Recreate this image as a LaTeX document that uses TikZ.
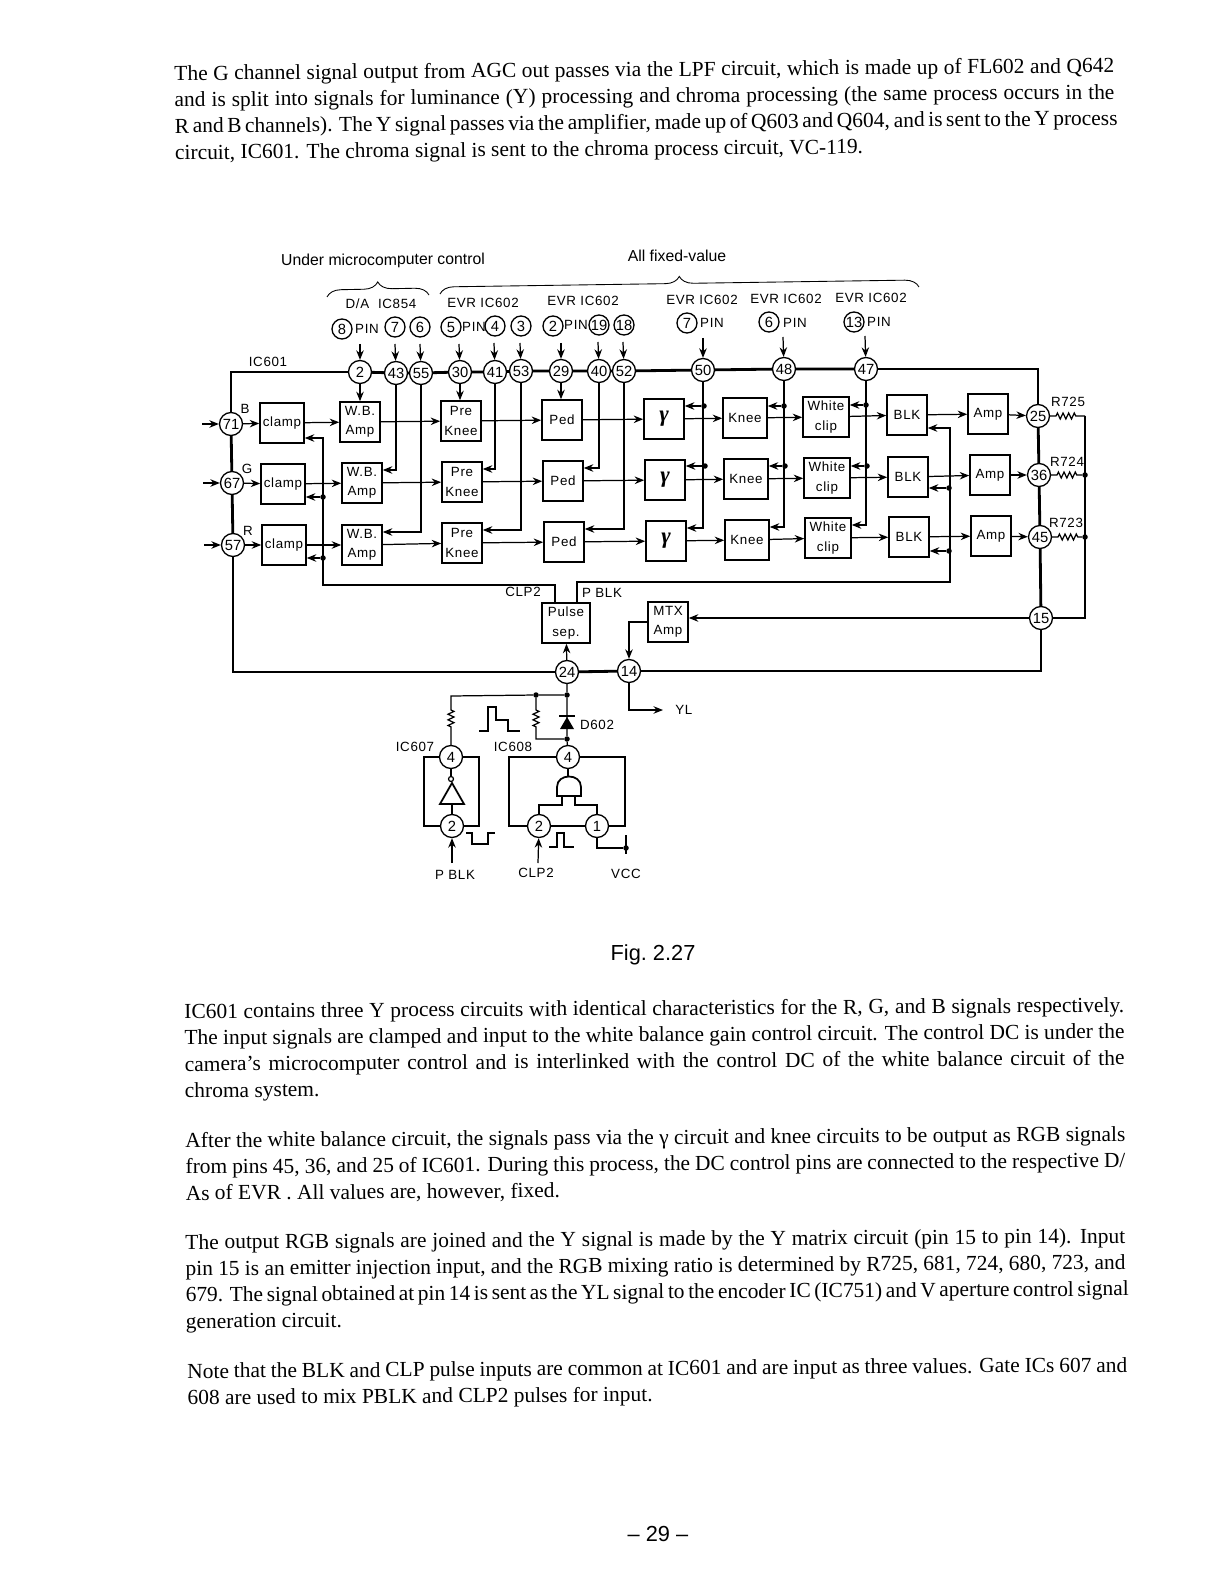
\documentclass[tikz,border=0pt]{standalone}
\usepackage{fontspec}
\setmainfont{Liberation Serif}
\setsansfont{Liberation Sans}
\newfontfamily\lblfont[LetterSpace=5]{Liberation Sans}
\usetikzlibrary{arrows.meta,decorations.pathreplacing,decorations.pathmorphing}
\newcommand{\jline}[1]{\makebox[18.8cm][s]{#1}\\}
\tikzset{
  blk/.style={draw, rectangle, line width=0.9pt, minimum width=0.8cm, minimum height=0.8cm, inner sep=0pt, align=center, font=\lblfont\fontsize{7.6}{11}\selectfont},
  pinc/.style={draw, circle, fill=white, line width=0.75pt, minimum size=0.46cm, inner sep=0pt, font=\sffamily\fontsize{8.4}{9}\selectfont},
  spinc/.style={pinc, minimum size=0.4cm},
  lbl/.style={inner sep=0pt, font=\lblfont\fontsize{7.6}{9}\selectfont},
  hlbl/.style={inner sep=0pt, font=\sffamily\fontsize{9}{11}\selectfont},
  para/.style={anchor=north west, inner sep=0pt, align=left, rotate=0.38, font=\fontsize{12.2}{15}\selectfont},
  dot/.style={circle, fill, minimum size=0.11cm, inner sep=0pt},
  gamtxt/.style={font=\fontsize{13}{13}\selectfont\bfseries\itshape},
  wire/.style={line width=0.7pt},
  rail/.style={line width=1.6pt},
  arr/.style={-{Stealth[length=1.9mm,width=1.5mm]}, line width=0.7pt},
  res/.style={decorate, decoration={zigzag, amplitude=1.7pt, segment length=3.2pt}},
  bracer/.style={decorate, decoration={brace, amplitude=8pt, aspect=0.5}, line width=0.5pt},
  upin/.style={yshift=0.26cm},
  lowin/.style={yshift=-0.26cm},
}

\begin{document}
\begin{tikzpicture}[x=0.02cm, y=-0.02cm]
\useasboundingbox (0,0) rectangle (1223,1584);

\node[para, rotate=0.1] (txtA) at (174,65) {\jline{The G channel signal output from AGC out passes via the LPF circuit, which is made up of FL602 and Q642}
\jline{and is split into signals for luminance (Y) processing and chroma processing (the same process occurs in the}
\jline{R and B channels). The Y signal passes via the amplifier, made up of Q603 and Q604, and is sent to the Y process}
circuit, IC601. The chroma signal is sent to the chroma process circuit, VC-119.};

\node[hlbl, rotate=0.4] (head1) at (383,261) {Under microcomputer control};
\node[hlbl] (head2) at (677,256) {All fixed-value};
\coordinate (br1a) at (327,297);
\coordinate (br1b) at (429,295);
\coordinate (br2a) at (440,294);
\coordinate (br2b) at (919,287);
\draw[bracer] (br1a) -- (br1b);
\draw[bracer] (br2a) -- (br2b);

\node[lbl] (da) at (381,304) {D/A\ \ IC854};
\node[lbl] (evr1) at (483,303) {EVR IC602};
\node[lbl] (evr2) at (583,301) {EVR IC602};
\node[lbl] (evr3) at (702,300) {EVR IC602};
\node[lbl] (evr4) at (786,299) {EVR IC602};
\node[lbl] (evr5) at (871,298) {EVR IC602};

\node[spinc] (s8) at (342,329) {8};
\node[lbl] (pin1) at (367,329) {PIN};
\node[spinc] (s7) at (395,327) {7};
\node[spinc] (s6) at (420,327) {6};
\node[spinc] (s5) at (451,327) {5};
\node[lbl] (pin2) at (474,327) {PIN};
\node[spinc] (s4) at (495,326) {4};
\node[spinc] (s3) at (521,326) {3};
\node[spinc] (s2) at (553,326) {2};
\node[lbl] (pin3) at (576,325) {PIN};
\node[spinc] (s19) at (599,325) {19};
\node[spinc] (s18) at (624,325) {18};
\node[spinc] (s7b) at (687,323) {7};
\node[lbl] (pin4) at (712,323) {PIN};
\node[spinc] (s6b) at (769,322) {6};
\node[lbl] (pin5) at (795,323) {PIN};
\node[spinc] (s13) at (854,322) {13};
\node[lbl] (pin6) at (879,322) {PIN};

\node[lbl] (ic601) at (268,362) {IC601};
\node[pinc] (c2) at (360,372) {2};
\node[pinc] (c43) at (396,373) {43};
\node[pinc] (c55) at (421,373) {55};
\node[pinc] (c30) at (460,372) {30};
\node[pinc] (c41) at (495,372) {41};
\node[pinc] (c53) at (521,371) {53};
\node[pinc] (c29) at (561,371) {29};
\node[pinc] (c40) at (599,371) {40};
\node[pinc] (c52) at (624,371) {52};
\node[pinc] (c50) at (703,370) {50};
\node[pinc] (c48) at (784,369) {48};
\node[pinc] (c47) at (866,369) {47};
\node[pinc] (c71) at (231,424) {71};
\node[pinc] (c67) at (232,483) {67};
\node[pinc] (c57) at (233,545) {57};
\node[pinc] (c25) at (1038,416) {25};
\node[pinc] (c36) at (1039,475) {36};
\node[pinc] (c45) at (1040,537) {45};
\node[pinc] (c15) at (1041,618) {15};
\node[pinc] (c24) at (567,672) {24};
\node[pinc] (c14) at (629,671) {14};

\node[lbl] (lb) at (245,409) {B};
\node[lbl] (lg) at (247,469) {G};
\node[lbl] (lr) at (248,531) {R};

\node[blk, minimum width=0.88cm] (clamp1) at (282,423) {clamp};
\node[blk, minimum width=0.88cm] (clamp2) at (283,484) {clamp};
\node[blk, minimum width=0.88cm] (clamp3) at (284,545) {clamp};
\node[blk] (wb1) at (360,422) {W.B.\\Amp};
\node[blk] (wb2) at (362,483) {W.B.\\Amp};
\node[blk] (wb3) at (362,545) {W.B.\\Amp};
\node[blk] (pre1) at (461,421) {Pre\\Knee};
\node[blk] (pre2) at (462,482) {Pre\\Knee};
\node[blk] (pre3) at (462,543) {Pre\\Knee};
\node[blk] (ped1) at (562,420) {Ped};
\node[blk] (ped2) at (563,481) {Ped};
\node[blk] (ped3) at (564,542) {Ped};
\node[blk, gamtxt] (gam1) at (664,419) {γ};
\node[blk, gamtxt] (gam2) at (665,480) {γ};
\node[blk, gamtxt] (gam3) at (666,541) {γ};
\node[blk, minimum width=0.88cm] (knee1) at (745,418) {Knee};
\node[blk, minimum width=0.88cm] (knee2) at (746,479) {Knee};
\node[blk, minimum width=0.88cm] (knee3) at (747,540) {Knee};
\node[blk, minimum width=0.92cm] (wcl1) at (826,417) {White\\clip};
\node[blk, minimum width=0.92cm] (wcl2) at (827,478) {White\\clip};
\node[blk, minimum width=0.92cm] (wcl3) at (828,538) {White\\clip};
\node[blk] (blk1) at (907,415) {BLK};
\node[blk] (blk2) at (908,477) {BLK};
\node[blk] (blk3) at (909,537) {BLK};
\node[blk] (amp1) at (988,414) {Amp};
\node[blk] (amp2) at (990,475) {Amp};
\node[blk] (amp3) at (991,536) {Amp};
\node[blk, minimum width=0.96cm] (pulse) at (566,623) {Pulse\\sep.};
\node[blk] (mtx) at (668,622) {MTX\\Amp};

\draw[rail] (c2) -| (c71);
\draw[rail] (c2) -- (c43) -- (c55) -- (c30) -- (c41) -- (c53) -- (c29) -- (c40) -- (c52) -- (c50) -- (c48) -- (c47);
\draw[rail] (c47) -| (c25);
\draw[rail] (c25) -- (c36) -- (c45) -- (c15);
\draw[rail] (c71) -- (c67) -- (c57);
\draw[rail] (c57) |- (c24);
\draw[rail] (c24) -- (c14);
\draw[rail] (c14) -| (c15);

\coordinate (in71) at (202,424);
\coordinate (in67) at (203,483);
\coordinate (in57) at (204,545);
\draw[arr] (in71) -- (c71);
\draw[arr] (in67) -- (c67);
\draw[arr] (in57) -- (c57);
\draw[arr] (c71) -- (clamp1);
\draw[arr] (c67) -- (clamp2);
\draw[arr] (c57) -- (clamp3);

\draw[arr] (clamp1) -- (wb1);
\draw[arr] (clamp2) -- (wb2);
\draw[arr] (clamp3) -- (wb3);
\draw[arr] (wb1) -- (pre1);
\draw[arr] (wb2) -- (pre2);
\draw[arr] (wb3) -- (pre3);
\draw[arr] (pre1) -- (ped1);
\draw[arr] (pre2) -- (ped2);
\draw[arr] (pre3) -- (ped3);
\draw[arr] (ped1) -- (gam1);
\draw[arr] (ped2) -- (gam2);
\draw[arr] (ped3) -- (gam3);
\draw[arr] (gam1) -- (knee1);
\draw[arr] (gam2) -- (knee2);
\draw[arr] (gam3) -- (knee3);
\draw[arr] (knee1) -- (wcl1);
\draw[arr] (knee2) -- (wcl2);
\draw[arr] (knee3) -- (wcl3);
\draw[arr] (wcl1) -- (blk1);
\draw[arr] (wcl2) -- (blk2);
\draw[arr] (wcl3) -- (blk3);
\draw[arr] (blk1) -- (amp1);
\draw[arr] (blk2) -- (amp2);
\draw[arr] (blk3) -- (amp3);
\draw[arr] (amp1) -- (c25);
\draw[arr] (amp2) -- (c36);
\draw[arr] (amp3) -- (c45);

\coordinate (p2) at (360,344);
\coordinate (p43) at (395,344);
\coordinate (p55) at (420,344);
\coordinate (p30) at (459,344);
\coordinate (p41) at (494,343);
\coordinate (p53) at (520,343);
\coordinate (p29) at (561,343);
\coordinate (p40) at (598,342);
\coordinate (p52) at (623,342);
\coordinate (p50) at (703,338);
\coordinate (p48) at (783,337);
\coordinate (p47) at (865,336);
\draw[arr] (p2) -- (c2);
\draw[arr] (p43) -- (c43);
\draw[arr] (p55) -- (c55);
\draw[arr] (p30) -- (c30);
\draw[arr] (p41) -- (c41);
\draw[arr] (p53) -- (c53);
\draw[arr] (p29) -- (c29);
\draw[arr] (p40) -- (c40);
\draw[arr] (p52) -- (c52);
\draw[arr] (p50) -- (c50);
\draw[arr] (p48) -- (c48);
\draw[arr] (p47) -- (c47);

\draw[arr] (c2) -- (wb1.north -| c2);
\draw[arr] (c30) -- (pre1.north -| c30);
\draw[arr] (c29) -- (ped1.north -| c29);
\draw[arr] (c43) |- ([upin]wb2.east);
\draw[arr] (c55) |- ([upin]wb3.east);
\draw[arr] (c41) |- ([upin]pre2.east);
\draw[arr] (c53) |- ([upin]pre3.east);
\draw[arr] (c40) |- ([upin]ped2.east);
\draw[arr] (c52) |- ([upin]ped3.east);

\node[dot] (j50a) at (704,406) {};
\node[dot] (j50b) at (705,466) {};
\node[dot] (j48a) at (784,406) {};
\node[dot] (j48b) at (785,466) {};
\node[dot] (j47a) at (866,405) {};
\node[dot] (j47b) at (867,466) {};
\draw[arr] (c50) |- ([upin]gam3.east);
\draw[arr] (c48) |- ([upin]knee3.east);
\draw[arr] (c47) |- ([upin]wcl3.east);
\draw[arr] (j50a) -- (j50a -| gam1.east);
\draw[arr] (j50b) -- (j50b -| gam2.east);
\draw[arr] (j48a) -- (j48a -| knee1.east);
\draw[arr] (j48b) -- (j48b -| knee2.east);
\draw[arr] (j47a) -- (j47a -| wcl1.east);
\draw[arr] (j47b) -- (j47b -| wcl2.east);

\coordinate (clpc) at (323,585);
\coordinate (pblkc) at (950,582);
\node[dot] (jc2) at (323,497) {};
\node[dot] (jc3) at (323,558) {};
\node[dot] (jb2) at (949,488) {};
\node[dot] (jb3) at (949,551) {};
\draw[arr] ([xshift=-0.22cm]pulse.north) |- (clpc) |- ([yshift=-0.3cm]clamp1.east);
\draw[arr] ([xshift=0.22cm]pulse.north) |- (pblkc) |- ([lowin]blk1.east);
\draw[arr] (jc2) -- (jc2 -| clamp2.east);
\draw[arr] (jc3) -- (jc3 -| clamp3.east);
\draw[arr] (jb2) -- (jb2 -| blk2.east);
\draw[arr] (jb3) -- (jb3 -| blk3.east);
\node[lbl] (lclp) at (523,592) {CLP2};
\node[lbl] (lpbl) at (602,593) {P BLK};

\node[lbl] (r725) at (1068,402) {R725};
\node[lbl] (r724) at (1067,462) {R724};
\node[lbl] (r723) at (1066,523) {R723};
\coordinate (r5a) at (1056,416);
\coordinate (r5b) at (1076,416);
\coordinate (r4a) at (1057,475);
\coordinate (r4b) at (1077,475);
\coordinate (r3a) at (1058,537);
\coordinate (r3b) at (1078,537);
\coordinate (rtop) at (1085,416);
\node[dot] (jr4) at (1085,475) {};
\node[dot] (jr3) at (1085,537) {};
\draw[wire] (c25) -- (r5a) decorate[res] {-- (r5b)} -- (rtop);
\draw[wire] (c36) -- (r4a) decorate[res] {-- (r4b)} -- (jr4);
\draw[wire] (c45) -- (r3a) decorate[res] {-- (r3b)} -- (jr3);
\draw[wire] (rtop) |- (c15);

\draw[arr] (c15) -- (mtx.east |- c15);
\draw[arr] (mtx.west) -| (c14);
\draw[arr] (c24) -- (pulse);
\coordinate (yl) at (663,710);
\draw[arr] (c14) |- (yl);
\node[lbl, anchor=west] (lyl) at (675,710) {YL};

\node[pinc] (g4a) at (451,757) {4};
\node[pinc] (g2a) at (452,826) {2};
\node[pinc] (g4b) at (568,757) {4};
\node[pinc] (g2b) at (539,826) {2};
\node[pinc] (g1b) at (597,826) {1};
\node[lbl] (lic7) at (415,747) {IC607};
\node[lbl] (lic8) at (513,747) {IC608};
\node[lbl] (ld6) at (597,725) {D602};
\node[lbl] (lp1) at (455,875) {P BLK};
\node[lbl] (lp2) at (536,873) {CLP2};
\node[lbl] (lvcc) at (626,874) {VCC};

\node[dot] (j24) at (567,695) {};
\node[dot] (j53) at (536,695) {};
\node[dot] (j4b) at (567,739) {};
\coordinate (rla) at (451,696);
\coordinate (r1a) at (451,710);
\coordinate (r1b) at (451,728);
\coordinate (r2a) at (536,710);
\coordinate (r2b) at (536,729);
\draw[wire] (c24) -- (j24) -- (j53) -- (rla) -- (r1a) decorate[res] {-- (r1b)} -- (g4a);
\draw[wire] (j53) -- (r2a) decorate[res] {-- (r2b)} |- (j4b);
\draw[wire] (j24) -- (j4b) -- (g4b);
\fill (560,729) -- (574,729) -- (567,717) -- cycle;
\draw[wire] (559,716) -- (575,716);

\coordinate (la) at (424,790);
\coordinate (ra) at (479,790);
\coordinate (lb2) at (509,790);
\coordinate (rb2) at (625,790);
\draw[rail] (g4a) -| (la) |- (g2a);
\draw[rail] (g4a) -| (ra) |- (g2a);
\draw[rail] (g4b) -| (lb2) |- (g2b);
\draw[rail] (g4b) -| (rb2) |- (g1b);
\draw[rail] (g2b) -- (g1b);

\node[draw, circle, line width=0.7pt, minimum size=0.1cm, inner sep=0pt] (bub) at (451,779) {};
\coordinate (invb) at (452,804);
\draw[wire] (g4a) -- (bub);
\draw[wire] (invb) -- (g2a);
\draw[line width=1pt] (440,804) -- (464,804) -- (452,783) -- cycle;

\coordinate (gl) at (562,796);
\coordinate (gr) at (575,796);
\coordinate (gtop) at (568,776);
\draw[line width=1pt] (557,796) -- (581,796) -- (581,787) .. controls (581,773) and (557,773) .. (557,787) -- cycle;
\draw[wire] (gtop) -- (g4b);
\draw[wire] (gl) -- ++(0,9) -| (g2b);
\draw[wire] (gr) -- ++(0,9) -| (g1b);

\coordinate (ina) at (452,863);
\coordinate (inb) at (538,863);
\draw[arr] (ina) -- (g2a);
\draw[arr] (inb) -- (g2b);
\node[dot] (jv) at (626,848) {};
\coordinate (vtop) at (626,835);
\coordinate (vbot) at (626,854);
\draw[wire] (vtop) -- (vbot);
\draw[wire] (g1b) |- (jv);

\draw[wire] (479,731) -- (488,731) -- (488,707) -- (496,707) -- (496,720) -- (508,720) -- (508,731) -- (520,731);
\draw[wire] (466,833) -- (472,833) -- (472,844) -- (488,844) -- (488,833) -- (495,833);
\draw[wire] (549,847) -- (557,847) -- (557,833) -- (564,833) -- (564,847) -- (574,847);

\node[inner sep=0pt, font=\sffamily\fontsize{12.4}{15}\selectfont] (fig) at (653,955) {Fig.~2.27};

\node[para] (txtB) at (184,1003) {\jline{IC601 contains three Y process circuits with identical characteristics for the R, G, and B signals respectively.}
\jline{The input signals are clamped and input to the white balance gain control circuit. The control DC is under the}
\jline{camera's microcomputer control and is interlinked with the control DC of the white balance circuit of the}
chroma system.};

\node[para] (txtC) at (185,1132) {\jline{After the white balance circuit, the signals pass via the γ circuit and knee circuits to be output as RGB signals}
\jline{from pins 45, 36, and 25 of IC601. During this process, the DC control pins are connected to the respective D/}
As of EVR . All values are, however, fixed.};

\node[para] (txtD) at (185,1234) {\jline{The output RGB signals are joined and the Y signal is made by the Y matrix circuit (pin 15 to pin 14). Input}
\jline{pin 15 is an emitter injection input, and the RGB mixing ratio is determined by R725, 681, 724, 680, 723, and}
\jline{679. The signal obtained at pin 14 is sent as the YL signal to the encoder IC (IC751) and V aperture control signal}
generation circuit.};

\node[para] (txtE) at (187,1363) {\jline{Note that the BLK and CLP pulse inputs are common at IC601 and are input as three values. Gate ICs 607 and}
608 are used to mix PBLK and CLP2 pulses for input.};

\node[inner sep=0pt, font=\sffamily\fontsize{12.4}{15}\selectfont] (pageno) at (658,1534) {– 29 –};
\end{tikzpicture}
\end{document}
